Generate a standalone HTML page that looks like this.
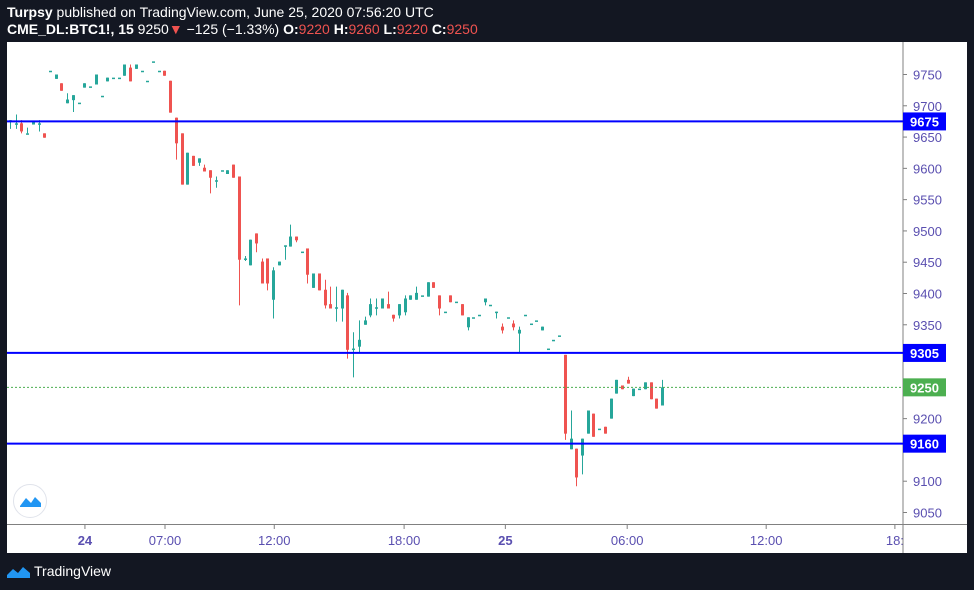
<!DOCTYPE html>
<html><head><meta charset="utf-8"><style>
body{margin:0;background:#131722;width:974px;height:590px;overflow:hidden;font-family:"Liberation Sans",sans-serif}
#hdr{position:absolute;left:7px;top:4px;color:#fff;font-size:14px;line-height:17px}
#hdr b{font-weight:bold}
.r{color:#ef5350}
#ft{position:absolute;left:34px;top:563px;color:#fff;font-size:14px}
</style></head><body>
<div id="hdr">
<div><b>Turpsy</b> published on TradingView.com, June 25, 2020 07:56:20 UTC</div>
<div><b>CME_DL:BTC1!, 15</b> 9250<span class="r">▼</span> −125 (−1.33%) <b>O:</b><span class="r">9220</span> <b>H:</b><span class="r">9260</span> <b>L:</b><span class="r">9220</span> <b>C:</b><span class="r">9250</span></div>
</div>
<svg id="chart" width="974" height="590" style="position:absolute;left:0;top:0"></svg>
<svg style="position:absolute;left:6px;top:563px" width="26" height="16"><path d="M1 12 L7 6 L12 10 L17 4 L24 10 L24 15 L1 15Z" fill="#2196f3"/></svg>
<div id="ft">TradingView</div>
<script>
const opens=[9676,9672,9672,9656,9670,9672,9656,9756,9743,9736,9704,9709,9705,9729,9731,9734,9716,9739,9745,9745,9748,9761,9759,9756,9740,9771,9756,9756,9740,9681,9656,9574,9620,9609,9601,9597,9581,9597,9591,9606,9587,9456,9445,9496,9451,9456,9390,9445,9477,9475,9491,9467,9472,9409,9432,9406,9383,9378,9376,9397,9312,9315,9350,9365,9378,9376,9383,9366,9365,9370,9390,9390,9397,9395,9418,9397,9371,9397,9387,9383,9346,9362,9366,9386,9382,9371,9347,9362,9352,9336,9366,9352,9357,9341,9312,9326,9333,9302,9151,9152,9141,9176,9208,9184,9187,9200,9240,9253,9262,9236,9248,9247,9258,9232,9221];
const closes=[9677,9672,9659,9656,9676,9672,9649,9756,9750,9724,9710,9717,9705,9736,9731,9750,9716,9745,9745,9745,9766,9739,9766,9756,9740,9771,9756,9748,9689,9640,9574,9625,9604,9616,9595,9585,9581,9597,9597,9585,9454,9456,9486,9480,9416,9416,9437,9451,9477,9491,9485,9467,9430,9432,9405,9381,9376,9378,9406,9310,9312,9326,9357,9383,9378,9392,9376,9360,9383,9392,9397,9401,9397,9418,9409,9376,9371,9386,9387,9365,9362,9362,9366,9392,9382,9371,9341,9362,9346,9342,9366,9352,9357,9347,9312,9326,9333,9176,9168,9106,9168,9213,9171,9184,9176,9232,9262,9247,9256,9248,9248,9258,9231,9216,9250];
const highs=[9677,9686,9677,9665,9676,9677,9656,9756,9750,9736,9720,9717,9705,9736,9731,9750,9716,9745,9745,9745,9766,9766,9766,9756,9740,9771,9756,9756,9740,9681,9656,9625,9620,9616,9606,9597,9587,9597,9597,9606,9587,9460,9486,9496,9456,9456,9442,9451,9477,9510,9491,9467,9472,9432,9432,9422,9411,9411,9406,9401,9338,9357,9363,9392,9392,9392,9403,9366,9383,9397,9397,9411,9397,9418,9418,9397,9371,9397,9387,9383,9362,9362,9366,9392,9382,9371,9352,9362,9357,9347,9366,9352,9357,9347,9312,9326,9333,9302,9213,9152,9168,9213,9208,9184,9187,9232,9262,9253,9267,9248,9248,9258,9258,9232,9262];
const lows=[9663,9663,9656,9656,9670,9659,9649,9756,9743,9724,9704,9690,9705,9729,9731,9734,9716,9739,9745,9745,9748,9739,9759,9756,9740,9771,9756,9748,9689,9614,9574,9574,9604,9604,9595,9560,9569,9597,9591,9585,9381,9452,9445,9466,9416,9405,9360,9445,9454,9475,9482,9467,9416,9409,9405,9376,9376,9355,9355,9296,9266,9306,9350,9362,9365,9376,9376,9355,9360,9365,9390,9390,9397,9395,9409,9365,9371,9386,9387,9365,9341,9362,9366,9381,9382,9360,9336,9362,9341,9306,9366,9352,9357,9341,9312,9326,9333,9166,9151,9092,9111,9176,9171,9184,9176,9200,9240,9247,9256,9236,9248,9247,9231,9216,9221];
const priceTicks=[9750,9700,9650,9600,9550,9500,9450,9400,9350,9200,9100,9050];
const levels=[9675,9305,9160];
const lastPrice=9250;
const timeLabels=["24","07:00","12:00","18:00","25","06:00","12:00","18:"];
const timeIdx=[13.1,27.1,46.2,68.9,86.6,107.9,132.2,154.7];

const NS="http://www.w3.org/2000/svg";
const svg=document.getElementById('chart');
const y=p=>74.5+(9750-p)*0.6257;
const x=i=>10+i*5.72;
function mk(t,a,parent){const e=document.createElementNS(NS,t);for(const k in a)e.setAttribute(k,a[k]);(parent||svg).appendChild(e);return e;}
const bg=mk('rect',{x:7,y:42,width:960,height:511,fill:'#fff'});


mk('line',{x1:903,y1:42,x2:903,y2:553,stroke:'#808080','stroke-width':1});
mk('line',{x1:7,y1:524.5,x2:967,y2:524.5,stroke:'#808080','stroke-width':1});
const clip=mk('clipPath',{id:'pc'});mk('rect',{x:7,y:42,width:896,height:482},clip);
const g=mk('g',{'clip-path':'url(#pc)'});


for(let i=0;i<opens.length;i++){
  const up=closes[i]>=opens[i];const c=up?'#26a69a':'#ef5350';const cx=Math.round(x(i))+0.5;
  const w=mk('line',{x1:cx,x2:cx,y1:y(highs[i]),y2:y(lows[i]),stroke:c,'stroke-width':1},g);
  
  
  const t=Math.min(y(opens[i]),y(closes[i]));const h=Math.max(1.5,Math.abs(y(opens[i])-y(closes[i])));
  const b=mk('rect',{x:cx-1.5,y:t,width:3,height:h,fill:c},g);
  
  
}
const lp=mk('line',{x1:7,x2:903,y1:y(lastPrice),y2:y(lastPrice),stroke:'#4caf50','stroke-width':1,'stroke-dasharray':'2,2'});


priceTicks.forEach(p=>{
  mk('line',{x1:903,x2:907,y1:y(p),y2:y(p),stroke:'#808080'});
  const t=mk('text',{x:913,y:y(p)+5,fill:'#5a4fb0','font-size':13,'font-family':'Liberation Sans, sans-serif'});t.textContent=p;
  
  
});
levels.forEach(p=>{
  const l=mk('line',{x1:7,x2:903,y1:y(p),y2:y(p),stroke:'#0000ff','stroke-width':2});
  
  
  mk('rect',{x:903,y:y(p)-9,width:43,height:18,fill:'#0000ff'});
  const t=mk('text',{x:924.5,y:y(p)+5,fill:'#fff','font-size':13,'font-weight':'bold','text-anchor':'middle','font-family':'Liberation Sans, sans-serif'});t.textContent=p;
  
  
});
mk('rect',{x:903,y:y(lastPrice)-9,width:43,height:18,fill:'#4caf50'});
const lt=mk('text',{x:924.5,y:y(lastPrice)+5,fill:'#fff','font-size':13,'font-weight':'bold','text-anchor':'middle','font-family':'Liberation Sans, sans-serif'});lt.textContent=lastPrice;


timeLabels.forEach((s,k)=>{
  const tx=x(timeIdx[k]);
  mk('line',{x1:tx,x2:tx,y1:524,y2:529,stroke:'#808080'});
  const t=mk('text',{x:tx,y:545,fill:'#5a4fb0','font-size':13,'text-anchor':'middle','font-weight':s.length<3?'bold':'normal','font-family':'Liberation Sans, sans-serif'});t.textContent=s;
  
  
});
mk('rect',{x:903,y:525,width:64,height:28,fill:'#fff'});
mk('line',{x1:903,y1:525,x2:903,y2:553,stroke:'#808080'});
const lg=mk('circle',{cx:30,cy:501,r:16.5,fill:'#fff',stroke:'#e0e3eb','stroke-width':1});


mk('path',{d:'M20 506 L26 498 L31 503 L35 497 L41 503 L41 507 L20 507Z',fill:'#2196f3'});
</script>
</body></html>
